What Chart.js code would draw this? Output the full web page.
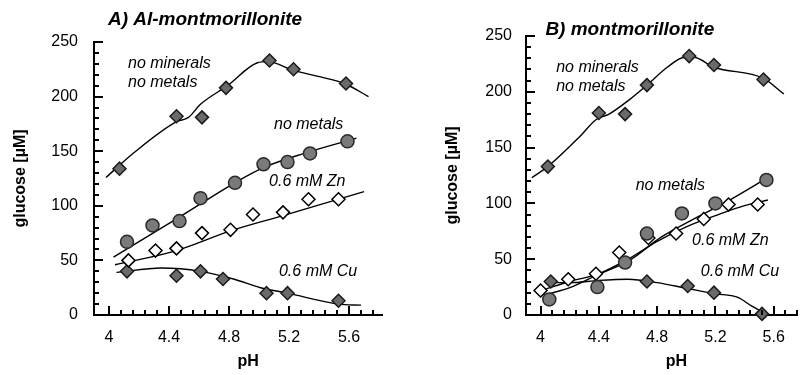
<!DOCTYPE html>
<html>
<head>
<meta charset="utf-8">
<script src="https://cdn.jsdelivr.net/npm/chart.js@4.4.1/dist/chart.umd.min.js"></script>
<style>
    html, body { margin: 0; padding: 0; background: #fff; }
    #wrap { position: relative; width: 805px; height: 375px; }
    canvas { position: absolute; top: 0; }
</style>
</head>
<body>
<div id="wrap">
    <canvas id="chartA" width="400" height="375" style="left:0"></canvas>
    <canvas id="chartB" width="405" height="375" style="left:400px"></canvas>
</div>
<script>
const phTicks = [4, 4.4, 4.8, 5.2, 5.6];
const glucoseTicks = [0, 50, 100, 150, 200, 250];

// A) Al-montmorillonite - measured points
const aNoMineralsPh = [4.07, 4.45, 4.62, 4.78, 5.07, 5.23, 5.58];
const aNoMinerals   = [134, 182, 181, 208, 233, 225, 212];
const aNoMetalsPh   = [4.12, 4.29, 4.47, 4.61, 4.84, 5.03, 5.19, 5.34, 5.59];
const aNoMetals     = [67, 82, 86, 107, 121, 138, 140, 148, 159];
const aZnPh         = [4.13, 4.31, 4.45, 4.62, 4.81, 4.96, 5.16, 5.33, 5.53];
const aZn           = [50, 59, 61, 75, 78, 92, 94, 106, 106];
const aCuPh         = [4.12, 4.45, 4.61, 4.76, 5.05, 5.19, 5.53];
const aCu           = [40, 36, 40, 33, 20, 20, 13];

// A) fitted curves
const aNoMineralsFitPh = [3.98, 4.17, 4.45, 4.53, 4.61, 4.79, 4.99, 5.06, 5.23, 5.41, 5.57, 5.73];
const aNoMineralsFit   = [126, 149, 177, 181, 193, 210, 231, 232, 224, 218, 212, 200];
const aNoMetalsFitPh   = [4.03, 4.45, 4.85, 5.03, 5.3, 5.65];
const aNoMetalsFit     = [53, 88, 122, 135, 148, 162];
const aZnFitPh         = [4.04, 4.45, 4.81, 5.16, 5.7];
const aZnFit           = [46, 59, 77, 91, 113];
const aCuFitPh         = [4.05, 4.35, 4.61, 4.83, 5.01, 5.19, 5.53, 5.68];
const aCuFit           = [39, 43, 40, 33, 25, 20, 10, 9];

// B) montmorillonite - measured points
const bNoMineralsPh = [4.05, 4.4, 4.58, 4.73, 5.02, 5.19, 5.53];
const bNoMinerals   = [133, 181, 180, 206, 232, 224, 211];
const bNoMetalsPh   = [4.06, 4.39, 4.58, 4.73, 4.97, 5.2, 5.55];
const bNoMetals     = [14, 25, 47, 73, 91, 100, 121];
const bZnPh         = [4.0, 4.19, 4.38, 4.54, 4.74, 4.93, 5.12, 5.29, 5.49];
const bZn           = [22, 32, 37, 56, 69, 73, 86, 99, 99];
const bCuPh         = [4.07, 4.73, 5.01, 5.19, 5.52];
const bCu           = [30, 30, 26, 20, 1];

// B) fitted curves
const bNoMineralsFitPh = [3.94, 4.05, 4.27, 4.38, 4.47, 4.61, 4.73, 4.87, 4.99, 5.05, 5.19, 5.53, 5.67];
const bNoMineralsFit   = [123, 133, 160, 175, 180, 193, 206, 222, 231, 231, 222, 212, 198];
const bNoMetalsFitPh   = [4.03, 4.21, 4.39, 4.61, 4.83, 5.05, 5.27, 5.57];
const bNoMetalsFit     = [18, 25, 36, 49, 70, 86, 101, 124];
const bZnFitPh         = [4.03, 4.2, 4.4, 4.6, 4.8, 5.0, 5.2, 5.4, 5.56];
const bZnFit           = [23, 30, 37, 50, 66, 79, 89, 98, 103];
const bCuFitPh         = [4.03, 4.2, 4.4, 4.6, 4.8, 5.0, 5.2, 5.35, 5.45, 5.55];
const bCuFit           = [29, 29, 31, 32, 29, 24, 19, 16, 8, 1];

const FONT = '"Liberation Sans", Arial, Helvetica, sans-serif';

function pts(xs, ys) {
    return xs.map((x, i) => ({ x, y: ys[i] }));
}

function fitLine(xs, ys) {
    return {
        type: 'line', data: pts(xs, ys), showLine: true, pointRadius: 0,
        borderColor: '#000', borderWidth: 1.4, cubicInterpolationMode: 'monotone',
        fill: false, order: 2, clip: false
    };
}

const markers = {
    darkDiamond: { pointStyle: 'rectRot', pointRadius: 6.5, backgroundColor: '#6a6a6a', borderColor: '#1a1a1a', pointBorderWidth: 1.5 },
    circle: { pointStyle: 'circle', pointRadius: 6.5, backgroundColor: '#7a7a7a', borderColor: '#2a2a2a', pointBorderWidth: 1.5 },
    openDiamond: { pointStyle: 'rectRot', pointRadius: 6.5, backgroundColor: '#fff', borderColor: '#000', pointBorderWidth: 1.5 }
};

function pointSet(xs, ys, style) {
    return Object.assign({ type: 'scatter', data: pts(xs, ys), showLine: false, order: 1, clip: false }, markers[style]);
}

// inward tick marks on both axes (major + minor)
function drawInwardTicks(chart) {
    const ctx = chart.ctx;
    const a = chart.chartArea;
    const xs = chart.scales.x;
    const ys = chart.scales.y;
    ctx.save();
    ctx.fillStyle = '#000';
    for (let i = 0; i < 40; i++) {
        const v = 4 + i * 0.08;
        if (v > xs.max) break;
        const px = Math.round(xs.getPixelForValue(v));
        const len = i % 5 === 0 ? 9 : 5;
        ctx.fillRect(px - 1, a.bottom - len, 2, len);
    }
    for (let v = 10; v <= 250; v += 10) {
        const py = Math.round(ys.getPixelForValue(v));
        const len = v % 50 === 0 ? 9 : 5;
        ctx.fillRect(a.left, py - 1, len, 2);
    }
    ctx.restore();
}

// titles, curve labels and ticks, placed in data coordinates
const labelsPlugin = {
    id: 'labelsPlugin',
    afterDraw(chart, args, opts) {
        const { ctx, chartArea: a, scales: { x, y } } = chart;
        drawInwardTicks(chart);
        ctx.save();
        ctx.fillStyle = '#000';
        ctx.textBaseline = 'middle';
        ctx.textAlign = 'left';
        ctx.font = 'italic bold 19px ' + FONT;
        ctx.fillText(opts.title[0], x.getPixelForValue(opts.title[1]), y.getPixelForValue(opts.title[2]));
        ctx.font = 'italic 16px ' + FONT;
        opts.notes.forEach(([t, px, gy]) => {
            ctx.fillText(t, x.getPixelForValue(px), y.getPixelForValue(gy));
        });
        // axis titles
        ctx.font = 'bold 16px ' + FONT;
        ctx.textAlign = 'center';
        ctx.fillText('pH', x.getPixelForValue(opts.phTitleAt), a.bottom + 47);
        ctx.translate(opts.yTitleX, (a.top + a.bottom) / 2);
        ctx.rotate(-Math.PI / 2);
        ctx.fillText('glucose [\u00b5M]', 0, 0);
        ctx.restore();
    }
};

function makeChart(id, datasets, cfg) {
    const el = document.getElementById(id);
    return new Chart(el, {
        type: 'scatter',
        data: { datasets },
        plugins: [labelsPlugin],
        options: {
            responsive: false,
            animation: false,
            layout: { padding: { top: cfg.top, right: cfg.right, bottom: 0, left: 0 } },
            plugins: {
                legend: { display: false },
                tooltip: { enabled: false },
                labelsPlugin: cfg.labels
            },
            scales: {
                x: {
                    type: 'linear', min: 3.9, max: cfg.xMax,
                    afterBuildTicks: s => { s.ticks = phTicks.map(v => ({ value: v })); },
                    afterFit: s => { s.height = 60; },
                    grid: { display: false, drawTicks: false },
                    border: { display: true, color: '#000', width: 2 },
                    ticks: {
                        color: '#000', padding: 13, maxRotation: 0, autoSkip: false,
                        font: { family: FONT, size: 16 },
                        callback: v => String(+v.toFixed(1))
                    }
                },
                y: {
                    type: 'linear', min: 0, max: 250,
                    afterBuildTicks: s => { s.ticks = glucoseTicks.map(v => ({ value: v })); },
                    afterFit: s => { s.width = cfg.yWidth; },
                    grid: { display: false, drawTicks: false },
                    border: { display: true, color: '#000', width: 2 },
                    ticks: {
                        color: '#000', padding: cfg.yPad,
                        font: { family: FONT, size: 16 }
                    }
                }
            }
        }
    });
}

document.addEventListener('DOMContentLoaded', () => {
    makeChart('chartA', [
        fitLine(aNoMineralsFitPh, aNoMineralsFit),
        fitLine(aNoMetalsFitPh, aNoMetalsFit),
        fitLine(aZnFitPh, aZnFit),
        fitLine(aCuFitPh, aCuFit),
        pointSet(aNoMineralsPh, aNoMinerals, 'darkDiamond'),
        pointSet(aNoMetalsPh, aNoMetals, 'circle'),
        pointSet(aZnPh, aZn, 'openDiamond'),
        pointSet(aCuPh, aCu, 'darkDiamond')
    ], {
        top: 42, right: 18, xMax: 5.82, yWidth: 94, yPad: 16,
        labels: {
            title: ['A) Al-montmorillonite', 3.993, 270],
            notes: [
                ['no minerals', 4.127, 230],
                ['no metals', 4.127, 213],
                ['no metals', 5.1, 174],
                ['0.6 mM Zn', 5.067, 122],
                ['0.6 mM Cu', 5.133, 40]
            ],
            phTitleAt: 4.927,
            yTitleX: 21
        }
    });

    makeChart('chartB', [
        fitLine(bNoMineralsFitPh, bNoMineralsFit),
        fitLine(bNoMetalsFitPh, bNoMetalsFit),
        fitLine(bZnFitPh, bZnFit),
        fitLine(bCuFitPh, bCuFit),
        pointSet(bNoMineralsPh, bNoMinerals, 'darkDiamond'),
        pointSet(bNoMetalsPh, bNoMetals, 'circle'),
        pointSet(bZnPh, bZn, 'openDiamond'),
        pointSet(bCuPh, bCu, 'darkDiamond')
    ], {
        top: 36, right: 0, xMax: 5.76, yWidth: 126, yPad: 14,
        labels: {
            title: ['B) montmorillonite', 4.033, 256],
            notes: [
                ['no minerals', 4.107, 222],
                ['no metals', 4.107, 205],
                ['no metals', 4.653, 116],
                ['0.6 mM Zn', 5.04, 67],
                ['0.6 mM Cu', 5.1, 38.5]
            ],
            phTitleAt: 4.933,
            yTitleX: 53
        }
    });
});
</script>
</body>
</html>
